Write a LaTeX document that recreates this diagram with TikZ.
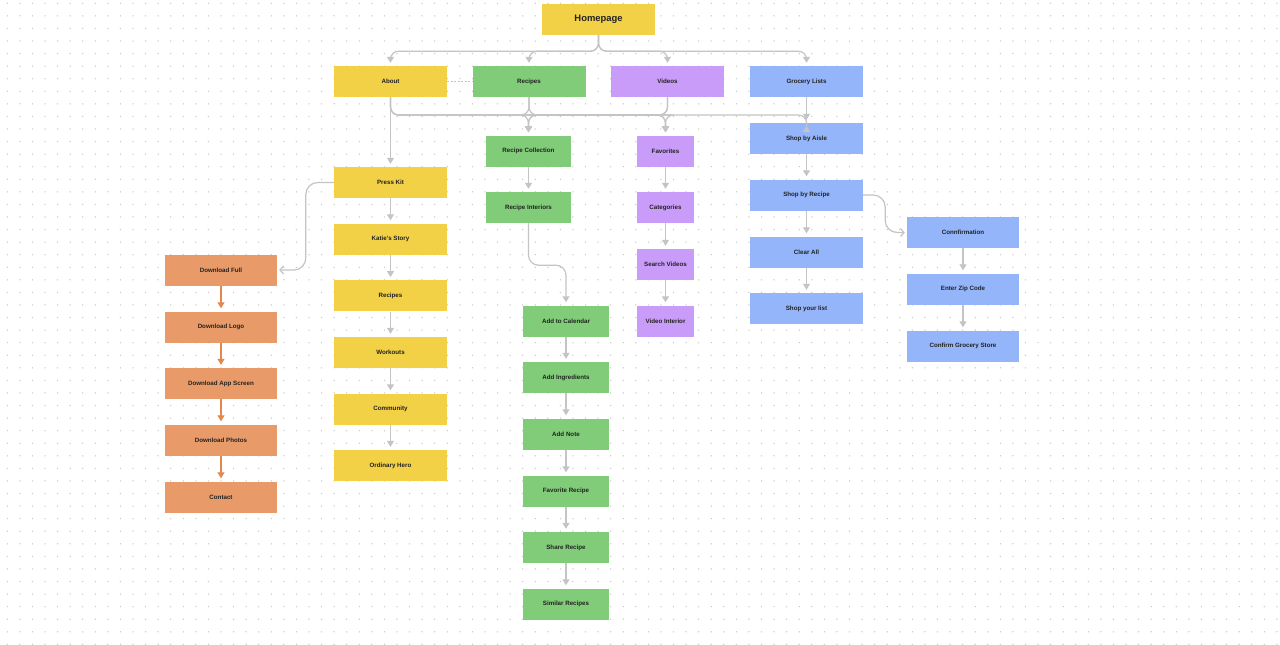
\documentclass[tikz,border=0pt]{standalone}
\usepackage{fontspec}
\setmainfont{Liberation Sans}
\usetikzlibrary{arrows.meta,calc}
\definecolor{cyel}{HTML}{F2D147}
\definecolor{cgrn}{HTML}{80CC78}
\definecolor{cpur}{HTML}{C99CF9}
\definecolor{cblu}{HTML}{94B5F9}
\definecolor{cora}{HTML}{E89B68}
\definecolor{edgec}{HTML}{C4C4C4}
\definecolor{orac}{HTML}{E5864D}
\definecolor{dotc}{HTML}{C8C8C8}
\definecolor{txt}{HTML}{222222}
\tikzset{
  box/.style={minimum height=31pt, inner sep=0pt, text=txt, font=\fontsize{6.2}{7}\selectfont\bfseries},
  wbox/.style={box, minimum width=113pt},
  ybox/.style={wbox, fill=cyel},
  bbox/.style={wbox, fill=cblu},
  pbox/.style={box, fill=cpur},
  gbox/.style={box, fill=cgrn, minimum width=86pt},
  obox/.style={box, fill=cora, minimum width=112pt},
  conn/.style={draw=edgec, line width=1.2pt, -{Triangle[width=7pt,length=6pt]}, shorten >=3pt, rounded corners=8pt},
  oconn/.style={conn, draw=orac},
  chev/.style={draw=edgec, line width=1.2pt, -{Straight Barb[width=8pt,length=3.5pt]}, shorten >=2pt, rounded corners=12pt},
}
\begin{document}
\begin{tikzpicture}[x=1pt,y=-1pt]
\useasboundingbox (0,0) rectangle (1280,645);
\fill[white] (0,0) rectangle (1280,645);
\foreach \i in {0,...,101}{\foreach \j in {0,...,51}{\fill[dotc] ({7.3+12.57*\i},{3.3+12.57*\j}) circle (0.75);}}
\coordinate (busB) at (0,115);
% top
\node[box, fill=cyel, minimum width=113pt, font=\fontsize{9.4}{11}\selectfont\bfseries] (home) at (598.5,19.5) {Homepage};
\node[ybox] (about) at (390.5,81.5) {About};
\node[wbox, fill=cgrn] (recipes) at (529,81.5) {Recipes};
\node[wbox, fill=cpur] (videos) at (667.5,81.5) {Videos};
\node[bbox] (grocery) at (806.5,81.5) {Grocery Lists};
% yellow column
\node[ybox] (press) at (390.5,182.5) {Press Kit};
\node[ybox] (katie) at (390.5,239) {Katie's Story};
\node[ybox] (yrec) at (390.5,295.8) {Recipes};
\node[ybox] (work) at (390.5,352.5) {Workouts};
\node[ybox] (comm) at (390.5,409) {Community};
\node[ybox] (hero) at (390.5,465.5) {Ordinary Hero};
% orange column
\node[obox] (dfull) at (221,270) {Download Full};
\node[obox] (dlogo) at (221,327) {Download Logo};
\node[obox] (dapp) at (221,383.5) {Download App Screen};
\node[obox] (dphoto) at (221,440) {Download Photos};
\node[obox] (contact) at (221,497) {Contact};
% green
\node[gbox, minimum width=85pt] (rc) at (528.5,151) {Recipe Collection};
\node[gbox, minimum width=85pt] (ri) at (528.5,207.5) {Recipe Interiors};
\node[gbox] (cal) at (566,321) {Add to Calendar};
\node[gbox] (ing) at (566,377.5) {Add Ingredients};
\node[gbox] (note) at (566,434) {Add Note};
\node[gbox] (fav) at (566,491) {Favorite Recipe};
\node[gbox] (share) at (566,547.5) {Share Recipe};
\node[gbox] (sim) at (566,604) {Similar Recipes};
% purple
\node[pbox, minimum width=57pt] (vfav) at (665.5,151) {Favorites};
\node[pbox, minimum width=57pt] (cat) at (665.5,207.5) {Categories};
\node[pbox, minimum width=57pt] (search) at (665.5,264.5) {Search Videos};
\node[pbox, minimum width=57pt] (vint) at (665.5,321) {Video Interior};
% blue
\node[bbox] (aisle) at (806.5,138.5) {Shop by Aisle};
\node[bbox] (sbr) at (806.5,195) {Shop by Recipe};
\node[bbox] (clear) at (806.5,252) {Clear All};
\node[bbox] (list) at (806.5,308.5) {Shop your list};
\node[bbox, minimum width=112pt] (conf) at (963,232.5) {Connfirmation};
\node[bbox, minimum width=112pt] (zip) at (963,289) {Enter Zip Code};
\node[bbox, minimum width=112pt] (store) at (963,346) {Confirm Grocery Store};
% homepage branches
\foreach \t in {about,recipes,videos,grocery}{\draw[conn] (home.south) -- ++(0,16) -| (\t.north);}
\draw[edgec, line width=1.2pt, dash pattern=on 2pt off 1.5pt] (about.east) -- (recipes.west);
% second bus
\draw[conn] (about.south) -- (press.north);
\foreach \t in {rc,vfav,aisle}{\draw[conn] (about.south) |- (\t.north |- busB) -- (\t.north);}
\draw[conn] (recipes.south) |- (rc.north |- busB) -- (rc.north);
\draw[conn] (recipes.south) |- (vfav.north |- busB) -- (vfav.north);
\draw[conn] (videos.south) |- (rc.north |- busB) -- (rc.north);
\draw[conn] (videos.south) |- (vfav.north |- busB) -- (vfav.north);
\draw[conn] (grocery.south) -- (aisle.north);
% yellow chain
\draw[conn] (press) -- (katie);
\draw[conn] (katie) -- (yrec);
\draw[conn] (yrec) -- (work);
\draw[conn] (work) -- (comm);
\draw[conn] (comm) -- (hero);
% press kit to download
\draw[chev] (press.west) -- ++(-28,0) |- (dfull.east);
\draw[oconn] (dfull) -- (dlogo);
\draw[oconn] (dlogo) -- (dapp);
\draw[oconn] (dapp) -- (dphoto);
\draw[oconn] (dphoto) -- (contact);
% green chain
\draw[conn] (rc) -- (ri);
\draw[conn, rounded corners=10pt] (ri.south) -- ++(0,42) -| (cal.north);
\draw[conn] (cal) -- (ing);
\draw[conn] (ing) -- (note);
\draw[conn] (note) -- (fav);
\draw[conn] (fav) -- (share);
\draw[conn] (share) -- (sim);
% purple chain
\draw[conn] (vfav) -- (cat);
\draw[conn] (cat) -- (search);
\draw[conn] (search) -- (vint);
% blue chain
\draw[conn] (aisle) -- (sbr);
\draw[conn] (sbr) -- (clear);
\draw[conn] (clear) -- (list);
\draw[chev] (sbr.east) -- ++(22,0) |- (conf.west);
\draw[conn] (conf) -- (zip);
\draw[conn] (zip) -- (store);
\end{tikzpicture}
\end{document}
